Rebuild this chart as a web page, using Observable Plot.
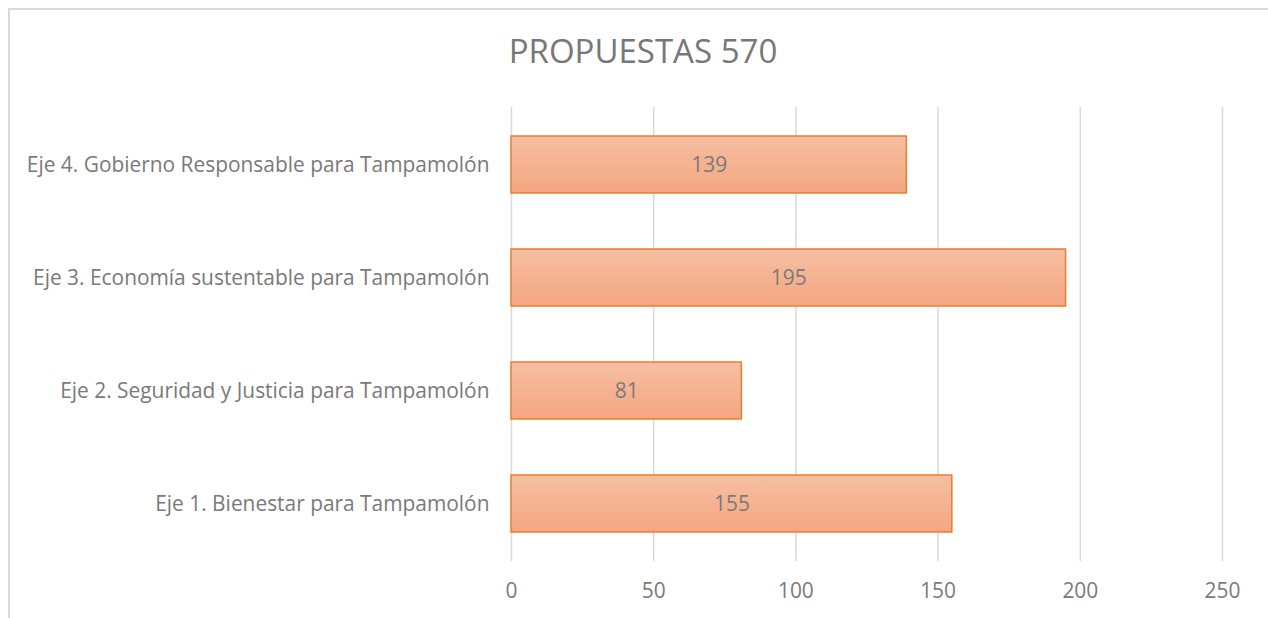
<!DOCTYPE html>
<html><head><meta charset="utf-8">
<script src="https://cdn.jsdelivr.net/npm/d3@7"></script>
<script src="https://cdn.jsdelivr.net/npm/@observablehq/plot@0.6"></script>
<style>
body{margin:0;background:#fff;}
#wrap{position:relative;width:1268px;height:618px;overflow:hidden;font-family:"Open Sans",sans-serif;}
#frame{position:absolute;left:8px;top:8px;width:1270px;height:700px;border-left:2px solid #d9d9d9;border-top:2px solid #d9d9d9;box-sizing:border-box;}
#title{position:absolute;left:0;top:0;width:1286px;height:90px;text-align:center;line-height:102px;font-size:33px;font-weight:400;color:#777;}
#chart{position:absolute;left:0;top:90px;}
</style></head>
<body><div id="wrap"><div id="frame"></div><div id="title">PROPUESTAS 570</div><div id="chart"></div></div>
<script>
const categories = [
  "Eje 4. Gobierno Responsable para Tampamolón",
  "Eje 3. Economía sustentable para Tampamolón",
  "Eje 2. Seguridad y Justicia para Tampamolón",
  "Eje 1. Bienestar para Tampamolón"
];
const values = [139, 195, 81, 155];
const xTicks = [0, 50, 100, 150, 200, 250];

const data = categories.map((c, i) => ({cat: c, v: values[i]}));

const plot = Plot.plot({
  width: 1268,
  height: 528,
  marginLeft: 511,
  marginRight: 46,
  marginTop: 17,
  marginBottom: 57,
  style: {fontFamily: "'Open Sans', sans-serif", fontSize: "20.9px", color: "#7a7a7a", background: "transparent"},
  x: {domain: [0, 250], ticks: xTicks, label: null, tickSize: 0, tickPadding: 22, grid: false},
  y: {domain: categories, label: null, tickSize: 0, tickPadding: 22, paddingInner: 0.5, paddingOuter: 0.25},
  marks: [
    Plot.ruleX(xTicks, {stroke: "#d9d9d9", strokeWidth: 1.5, strokeOpacity: 1}),
    Plot.barX(data, {x: "v", y: "cat", fill: "url(#barGrad)", stroke: "#ed7d31", strokeWidth: 1.5}),
    Plot.text(data, {x: d => d.v / 2, y: "cat", text: d => String(d.v), fill: "#7a7a7a", fontSize: 20.9})
  ]
});
const svg = d3.select(plot);
const defs = svg.insert("defs", ":first-child");
const g = defs.append("linearGradient").attr("id", "barGrad").attr("x1", 0).attr("y1", 0).attr("x2", 0).attr("y2", 1);
g.append("stop").attr("offset", "0%").attr("stop-color", "#f6bfa2");
g.append("stop").attr("offset", "100%").attr("stop-color", "#f4a681");
document.getElementById("chart").appendChild(plot);
</script></body></html>
